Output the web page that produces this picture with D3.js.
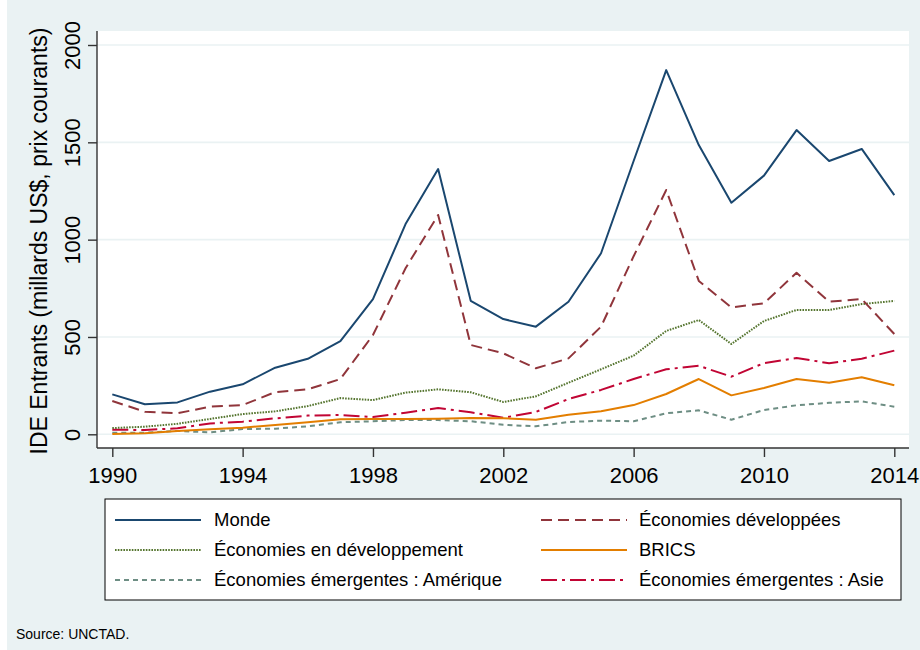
<!DOCTYPE html>
<html><head><meta charset="utf-8">
<script src="https://cdn.jsdelivr.net/npm/d3@7"></script>
<style>
html,body{margin:0;padding:0;background:#fff;}
svg{display:block;font-family:"Liberation Sans",Arial,sans-serif;}
</style></head>
<body>
<svg id="c" width="920" height="650"></svg>
<script>
const years = d3.range(1990, 2015);
const monde = [205,154,164,219,257,342,388,479,694,1080,1363,686,592,553,681,930,1404,1871,1486,1190,1329,1563,1404,1466,1229];
const developpees = [171,116,108,142,150,217,231,284,510,853,1127,459,416,339,390,553,915,1255,788,652,673,830,681,695,515];
const enDeveloppement = [32,39,54,79,104,118,145,186,176,214,231,216,166,195,265,334,404,531,587,464,582,639,639,669,685];
const brics = [2,5,17,26,34,48,62,77,79,79,80,84,82,75,101,118,150,207,284,200,238,284,265,293,252];
const emergAmerique = [8,8,17,10,27,29,41,62,67,73,73,67,49,41,63,70,67,108,123,75,125,149,162,169,142];
const emergAsie = [24,22,31,56,65,82,96,99,89,111,135,113,85,115,181,228,284,334,352,296,366,392,365,388,430];
const yTicks = [0,500,1000,1500,2000];
const xTicks = [1990,1994,1998,2002,2006,2010,2014];
const seriesNames = ["Monde","Économies développées","Économies en développement","BRICS","Économies émergentes : Amérique","Économies émergentes : Asie"];

const series = [
  {name: seriesNames[0], values: monde, color:"#1a476f", dash:null},
  {name: seriesNames[1], values: developpees, color:"#90353b", dash:"11,6"},
  {name: seriesNames[2], values: enDeveloppement, color:"#55752f", dash:"1.6,1.2"},
  {name: seriesNames[3], values: brics, color:"#e37e00", dash:null},
  {name: seriesNames[4], values: emergAmerique, color:"#6e8e84", dash:"5,4"},
  {name: seriesNames[5], values: emergAsie, color:"#c10534", dash:"16,5,3,5"}
];

const svg = d3.select("#c");
svg.append("rect").attr("x",0).attr("y",0).attr("width",920).attr("height",650).attr("fill","#ffffff");
svg.append("rect").attr("x",7).attr("y",0).attr("width",913).attr("height",650).attr("fill","#eaf2f3");

const plotL = 97, plotR = 909, plotT = 31, plotB = 448;
svg.append("rect").attr("x",plotL).attr("y",plotT).attr("width",plotR-plotL).attr("height",plotB-plotT).attr("fill","#ffffff");

const x = d3.scaleLinear().domain([1990,2014]).range([112.3, 894.3]);
const y = d3.scaleLinear().domain([0,2000]).range([434.3, 45]);

// gridlines
svg.append("g").selectAll("line").data(yTicks).join("line")
  .attr("x1",plotL).attr("x2",plotR)
  .attr("y1",d=>y(d)).attr("y2",d=>y(d))
  .attr("stroke","#eaf2f3").attr("stroke-width",1.6);

// lines
const line = d3.line().x((d,i)=>x(years[i])).y(d=>y(d));
const g = svg.append("g");
series.slice().reverse().forEach(s=>{
  g.append("path").datum(s.values).attr("d",line)
    .attr("fill","none").attr("stroke",s.color).attr("stroke-width",2)
    .attr("stroke-linejoin","round")
    .attr("stroke-dasharray",s.dash);
});

// y axis
const yAxis = svg.append("g").attr("transform",`translate(${plotL},0)`)
  .call(d3.axisLeft(y).tickValues(yTicks).tickFormat(d3.format("d")).tickSize(9).tickPadding(6).tickSizeOuter(0));
yAxis.select(".domain").attr("d",`M0,${plotT}V${plotB}`).attr("stroke","#333").attr("stroke-width",1.4);
yAxis.selectAll(".tick line").attr("stroke","#333").attr("stroke-width",1.4);
yAxis.selectAll(".tick text")
  .attr("transform","rotate(-90)")
  .attr("x",0).attr("y",-17).attr("dy",0)
  .attr("text-anchor","middle")
  .attr("font-size",22).attr("fill","#000")
  .attr("font-family","'Liberation Sans',Arial,sans-serif");

// x axis
const xAxis = svg.append("g").attr("transform",`translate(0,${plotB})`)
  .call(d3.axisBottom(x).tickValues(xTicks).tickFormat(d3.format("d")).tickSize(9).tickPadding(8).tickSizeOuter(0));
xAxis.select(".domain").attr("d",`M${plotL},0H${plotR}`).attr("stroke","#333").attr("stroke-width",1.4);
xAxis.selectAll(".tick line").attr("stroke","#333").attr("stroke-width",1.4);
xAxis.selectAll(".tick text")
  .attr("y",35).attr("dy",0)
  .attr("font-size",22).attr("fill","#000")
  .attr("font-family","'Liberation Sans',Arial,sans-serif");

// y title
svg.append("text")
  .attr("transform","translate(47,241) rotate(-90)")
  .attr("text-anchor","middle")
  .attr("font-size",23).attr("fill","#000")
  .text("IDE Entrants (millards US$, prix courants)");

// legend
const lg = svg.append("g");
lg.append("rect").attr("x",105).attr("y",499).attr("width",796).attr("height",101)
  .attr("fill","#fff").attr("stroke","#000").attr("stroke-width",1);
const rows = [520,550,580];
const cols = [{k0:115,k1:201,t:214},{k0:541,k1:627,t:639}];
series.forEach((s,i)=>{
  const r = rows[Math.floor(i/2)], c = cols[i%2];
  lg.append("line").attr("x1",c.k0).attr("x2",c.k1).attr("y1",r).attr("y2",r)
    .attr("stroke",s.color).attr("stroke-width",2).attr("stroke-dasharray",s.dash);
  lg.append("text").attr("x",c.t).attr("y",r).attr("dy","0.35em")
    .attr("font-size",18.5).attr("fill","#000").text(s.name);
});

svg.append("text").attr("x",16).attr("y",639).attr("font-size",14).attr("fill","#000").text("Source: UNCTAD.");
</script>
</body></html>
